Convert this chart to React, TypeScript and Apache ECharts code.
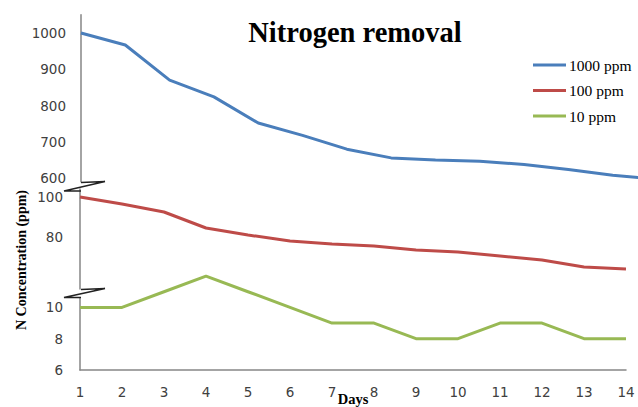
import React, { useEffect, useRef } from "react";
import * as echarts from "echarts";

const days = [1, 2, 3, 4, 5, 6, 7, 8, 9, 10, 11, 12, 13, 14];
const series1000 = [1000, 967, 870, 824, 752, 718, 680, 656, 650, 647, 638, 624, 608, 598];
const series100 = [100, 96.5, 92.5, 84.5, 81, 78, 76.5, 75.5, 73.5, 72.5, 70.5, 68.5, 65, 64];
const series10 = [10, 10, 11, 12, 11, 10, 9, 9, 8, 8, 9, 9, 8, 8];
const seriesNames = ["1000 ppm", "100 ppm", "10 ppm"];
const colors = ["#4a7ebb", "#be4b48", "#98b954"];
const topLabels = [600, 700, 800, 900, 1000];
const midLabels = [80, 100];
const lowLabels = [6, 8, 10];

const axisGray = "#868686";
const tickFont = { fontFamily: "DejaVu Sans", fontSize: 13.5, color: "#404040" };

export default function App() {
  const ref = useRef<HTMLDivElement>(null);
  useEffect(() => {
    if (!ref.current) return;
    const chart = echarts.init(ref.current, undefined, { renderer: "svg" });
    const pair = (vals: number[]) => days.map((d, i) => [d, vals[i]]);
    const yBase = (min: number, max: number, interval: number, shown: number[], margin: number) => ({
      type: "value",
      min,
      max,
      interval,
      axisLine: { show: true, lineStyle: { color: axisGray, width: 1.5 } },
      axisTick: { show: false },
      splitLine: { show: false },
      axisLabel: {
        ...tickFont,
        margin,
        formatter: (v: number) => (shown.includes(v) ? String(v) : ""),
      },
    });
    chart.setOption({
      animation: false,
      backgroundColor: "#ffffff",
      title: {
        text: "Nitrogen removal",
        left: 355,
        top: 18,
        textAlign: "center",
        padding: 0,
        textStyle: { fontFamily: "Liberation Serif", fontWeight: "bold", fontSize: 28.5, color: "#000" },
      },
      legend: {
        orient: "vertical",
        left: 533,
        top: 57,
        padding: 0,
        itemWidth: 33,
        itemHeight: 3,
        itemGap: 9.5,
        icon: "rect",
        data: seriesNames,
        textStyle: { fontFamily: "Liberation Serif", fontSize: 15.5, color: "#000", lineHeight: 16, padding: [0, 0, 0, -2] },
      },
      grid: [
        { left: 81, top: 14.85, width: 576, height: 167, outerBoundsMode: "none", containLabel: false },
        { left: 80, top: 189, width: 546, height: 100, outerBoundsMode: "none", containLabel: false },
        { left: 80, top: 298, width: 546, height: 72, outerBoundsMode: "none", containLabel: false },
      ],
      xAxis: [
        { type: "value", gridIndex: 0, min: 1, max: 14, show: false },
        { type: "value", gridIndex: 1, min: 1, max: 14, show: false },
        {
          type: "value",
          gridIndex: 2,
          min: 1,
          max: 14,
          interval: 1,
          axisLine: { show: true, lineStyle: { color: axisGray, width: 1.5 } },
          axisTick: { show: false },
          splitLine: { show: false },
          axisLabel: { ...tickFont, margin: 15 },
          name: "Days",
          nameLocation: "middle",
          nameGap: 21,
          nameMoveOverlap: false,
          nameTextStyle: { fontFamily: "Liberation Serif", fontWeight: "bold", fontSize: 14.5, color: "#000" },
        },
      ],
      yAxis: [
        { gridIndex: 0, ...yBase(590, 1050, 10, topLabels, 15) },
        { gridIndex: 1, ...yBase(54, 104, 2, midLabels, 17) },
        { gridIndex: 2, ...yBase(6, 10.6, 2, lowLabels, 17) },
      ],
      series: [
        {
          name: seriesNames[0],
          type: "line",
          xAxisIndex: 0,
          yAxisIndex: 0,
          data: pair(series1000),
          showSymbol: false,
          symbol: "none",
          lineStyle: { width: 3, color: colors[0] },
          itemStyle: { color: colors[0] },
        },
        {
          name: seriesNames[1],
          type: "line",
          xAxisIndex: 1,
          yAxisIndex: 1,
          data: pair(series100),
          showSymbol: false,
          symbol: "none",
          lineStyle: { width: 3, color: colors[1] },
          itemStyle: { color: colors[1] },
        },
        {
          name: seriesNames[2],
          type: "line",
          xAxisIndex: 2,
          yAxisIndex: 2,
          data: pair(series10),
          clip: false,
          showSymbol: false,
          symbol: "none",
          lineStyle: { width: 3, color: colors[2] },
          itemStyle: { color: colors[2] },
        },
      ],
      graphic: [
        {
          type: "polyline",
          shape: { points: [[81, 182.5], [105, 181.5], [64, 191], [81, 191]] },
          style: { stroke: "#222", lineWidth: 1.5, fill: null },
          z: 10,
        },
        {
          type: "polyline",
          shape: { points: [[81, 289.5], [105, 288.5], [64, 297.5], [81, 297.5]] },
          style: { stroke: "#222", lineWidth: 1.5, fill: null },
          z: 10,
        },
        {
          type: "text",
          x: 21,
          y: 260,
          rotation: Math.PI / 2,
          style: {
            text: "N Concentration (ppm)",
            fontFamily: "Liberation Serif",
            fontWeight: "bold",
            fontSize: 14,
            fill: "#000",
            textAlign: "center",
            textVerticalAlign: "middle",
          },
        },
      ],
    });
    return () => chart.dispose();
  }, []);
  return <div ref={ref} style={{ position: "fixed", left: 0, top: 0, width: 638, height: 407 }} />;
}
